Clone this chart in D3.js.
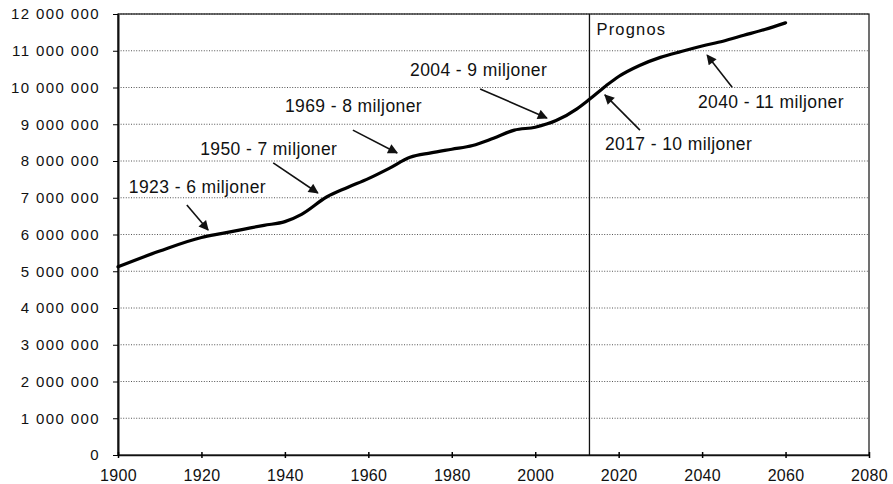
<!DOCTYPE html>
<html>
<head>
<meta charset="utf-8">
<script src="https://cdn.jsdelivr.net/npm/d3@7"></script>
<style>
  body { margin: 0; background: #fff; }
  text { font-family: "Liberation Sans", Arial, sans-serif; fill: #111; }
</style>
</head>
<body>
<svg id="drawing_region"></svg>
<script>
const years = [1900, 1910, 1920, 1925, 1930, 1935, 1940, 1944, 1950, 1955, 1960, 1965, 1970, 1975,
               1980, 1985, 1990, 1995, 2000, 2005, 2010, 2013, 2017, 2020, 2025, 2030, 2035, 2040,
               2045, 2050, 2055, 2060];
const population = [5.12, 5.55, 5.92, 6.03, 6.14, 6.25, 6.35, 6.55, 7.02, 7.28, 7.52, 7.80, 8.10, 8.22,
                    8.32, 8.42, 8.62, 8.84, 8.92, 9.10, 9.42, 9.68, 10.05, 10.30, 10.60, 10.82, 10.98, 11.13,
                    11.26, 11.42, 11.58, 11.76].map(v => v * 1e6);
const xTicks = [1900, 1920, 1940, 1960, 1980, 2000, 2020, 2040, 2060, 2080];
const yTicks = d3.range(0, 12000001, 1000000);
const forecastYear = 2013;

// annotations: label, text anchor (year, value), arrow from -> to
const noteLabels = ["1923 - 6 miljoner", "1950 - 7 miljoner", "1969 - 8 miljoner", "2004 - 9 miljoner",
                    "2040 - 11 miljoner", "2017 - 10 miljoner"];
const noteText = [[1902.6, 7.13], [1919.7, 8.16], [1940.0, 9.33], [1970.0, 10.31], [2039.0, 9.44], [2016.7, 8.30]];
const noteFrom = [[1916.5, 6.80], [1937.2, 7.95], [1956.3, 8.84], [1986.8, 9.96], [2047.2, 10.01], [2025.1, 8.84]];
const noteTo   = [[1921.6, 6.12], [1947.9, 7.13], [1966.9, 8.22], [2002.8, 9.17], [2041.2, 10.88], [2016.7, 9.80]];

const config = {
  width: 893,
  height: 484,
  margin: {top: 14, right: 24, bottom: 29, left: 118}
};

const svg = d3.select('#drawing_region')
    .attr('width', config.width)
    .attr('height', config.height);

const chart = svg.append('g')
    .attr('transform', `translate(${config.margin.left}, ${config.margin.top})`);

const inner_width = config.width - config.margin.left - config.margin.right;
const inner_height = config.height - config.margin.top - config.margin.bottom;

const xscale = d3.scaleLinear().domain([1900, 2080]).range([0, inner_width]);
const yscale = d3.scaleLinear().domain([0, 12000000]).range([inner_height, 0]);

const fmt = v => d3.format(',')(v).replace(/,/g, ' ');

// dotted gridlines
chart.append('g')
  .selectAll('line')
  .data(yTicks.slice(1))
  .join('line')
    .attr('x1', 0).attr('x2', inner_width)
    .attr('y1', d => yscale(d)).attr('y2', d => yscale(d))
    .attr('stroke', '#555')
    .attr('stroke-width', 1)
    .attr('stroke-dasharray', '1,1.6');

// frame
chart.append('rect')
    .attr('x', 0).attr('y', 0)
    .attr('width', inner_width).attr('height', inner_height)
    .attr('fill', 'none')
    .attr('stroke', '#111')
    .attr('stroke-width', 1.2);

// forecast divider
chart.append('line')
    .attr('x1', xscale(forecastYear)).attr('x2', xscale(forecastYear))
    .attr('y1', 0).attr('y2', inner_height)
    .attr('stroke', '#111').attr('stroke-width', 1.3);

// axes
const yaxis = d3.axisLeft(yscale).tickValues(yTicks).tickFormat(fmt).tickSize(5).tickSizeOuter(0);
const yaxis_group = chart.append('g').call(yaxis);
yaxis_group.select('.domain').attr('stroke', '#111').attr('stroke-width', 2);
yaxis_group.selectAll('.tick text')
    .attr('x', -18)
    .style('font-size', '15px')
    .style('letter-spacing', '1.4px')
    .attr('fill', '#111');

const xaxis = d3.axisBottom(xscale).tickValues(xTicks).tickFormat(d3.format('d')).tickSize(5).tickSizeOuter(0);
const xaxis_group = chart.append('g')
    .attr('transform', `translate(0, ${inner_height})`)
    .call(xaxis);
xaxis_group.select('.domain').attr('stroke', '#111').attr('stroke-width', 1.5);
xaxis_group.selectAll('.tick line').attr('y1', -3).attr('y2', 3).attr('stroke-width', 1.5);
xaxis_group.selectAll('.tick text')
    .attr('y', 15)
    .style('font-size', '16px')
    .style('letter-spacing', '0.3px')
    .attr('fill', '#111');

// population line
const line = d3.line()
    .x((d, i) => xscale(years[i]))
    .y(d => yscale(d))
    .curve(d3.curveMonotoneX);

chart.append('path')
    .datum(population)
    .attr('d', line)
    .attr('fill', 'none')
    .attr('stroke', '#000')
    .attr('stroke-width', 3.2)
    .attr('stroke-linejoin', 'round')
    .attr('stroke-linecap', 'round');

// arrowheads
svg.append('defs').append('marker')
    .attr('id', 'arrow')
    .attr('viewBox', '0 0 10 10')
    .attr('refX', 9).attr('refY', 5)
    .attr('markerWidth', 11).attr('markerHeight', 10)
    .attr('markerUnits', 'userSpaceOnUse')
    .attr('orient', 'auto')
  .append('path')
    .attr('d', 'M0,0 L10,5 L0,10 Z')
    .attr('fill', '#111');

chart.append('g')
  .selectAll('line')
  .data(noteLabels)
  .join('line')
    .attr('x1', (d, i) => xscale(noteFrom[i][0]))
    .attr('y1', (d, i) => yscale(noteFrom[i][1] * 1e6))
    .attr('x2', (d, i) => xscale(noteTo[i][0]))
    .attr('y2', (d, i) => yscale(noteTo[i][1] * 1e6))
    .attr('stroke', '#111')
    .attr('stroke-width', 1.6)
    .attr('marker-end', 'url(#arrow)');

chart.append('g')
  .selectAll('text')
  .data(noteLabels)
  .join('text')
    .attr('x', (d, i) => xscale(noteText[i][0]))
    .attr('y', (d, i) => yscale(noteText[i][1] * 1e6))
    .style('font-size', '17.5px')
    .style('letter-spacing', '0.4px')
    .text(d => d);

chart.append('text')
    .attr('x', xscale(forecastYear) + 7)
    .attr('y', yscale(11430000))
    .style('font-size', '16.5px')
    .style('letter-spacing', '1.2px')
    .text('Prognos');
</script>
</body>
</html>
